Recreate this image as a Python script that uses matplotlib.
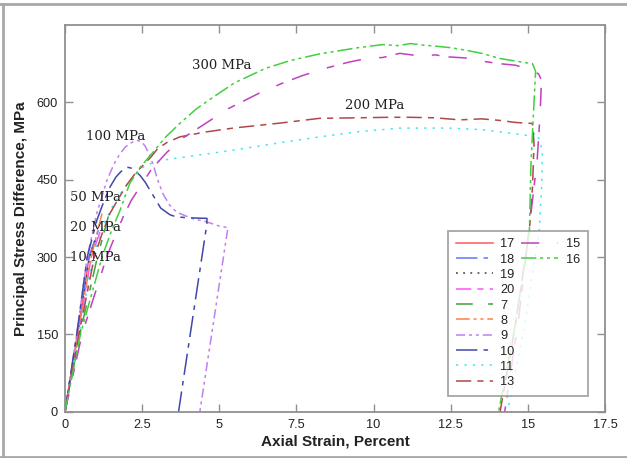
import matplotlib
matplotlib.use("Agg")
import matplotlib.pyplot as plt
from matplotlib.lines import Line2D

# ---------------- data ----------------
labels = ["17", "18", "19", "20", "7", "8", "9", "10", "11", "13", "15", "16"]

s17_x = [0, 0.40, 0.78, 0.95]
s17_y = [0, 150, 300, 330]
s18_x = [0, 0.40, 0.78, 1.10]
s18_y = [0, 150, 300, 355]
s19_x = [0, 0.42, 0.80, 1.00]
s19_y = [0, 150, 300, 335]
s20_x = [0, 0.42, 0.85, 1.20]
s20_y = [0, 150, 300, 360]
s7_x = [0, 0.48, 1.05, 1.50]
s7_y = [0, 150, 300, 400]
s8_x = [0, 0.42, 0.85, 1.20]
s8_y = [0, 150, 300, 385]
s9_x = [0, 0.38, 0.72, 1.03, 1.36, 1.60, 1.78, 1.95, 2.10, 2.25, 2.37, 2.50,
        2.60, 2.72, 2.85, 3.00, 3.17, 3.40, 3.62, 4.10, 4.60, 5.00, 5.28, 4.37]
s9_y = [0, 150, 300, 385, 449, 482, 500, 513, 520, 525, 526, 522,
        515, 500, 481, 450, 423, 400, 387, 375, 368, 360, 357, 0]
s10_x = [0, 0.38, 0.72, 1.03, 1.26, 1.46, 1.65, 1.80, 1.93, 2.04, 2.17, 2.30,
         2.45, 2.60, 2.85, 3.10, 3.40, 3.60, 4.00, 4.60, 4.60, 3.68]
s10_y = [0, 150, 300, 371, 408, 436, 455, 465, 471, 474, 472, 466,
         457, 445, 420, 395, 382, 378, 376, 375, 365, 0]
s11_x = [0, 0.45, 0.90, 1.30, 1.60, 1.88, 2.20, 2.53, 2.80, 3.07, 4.00, 5.44,
         7.00, 8.25, 9.50, 10.85, 12.46, 13.50, 14.08, 14.95, 15.30, 15.47,
         15.45, 15.37, 14.90, 14.34]
s11_y = [0, 150, 300, 370, 405, 430, 455, 474, 482, 487, 495, 507,
         522, 533, 543, 550, 550, 547, 543, 536, 540, 507,
         440, 352, 170, 0]
s13_x = [0, 0.45, 0.95, 1.20, 1.46, 1.75, 2.00, 2.25, 2.53, 2.80, 3.00, 3.30,
         3.72, 4.50, 5.44, 7.00, 8.25, 9.50, 10.50, 11.17, 12.00, 12.80,
         13.50, 14.08, 14.60, 15.15, 15.20, 15.15, 15.05, 14.60, 14.10]
s13_y = [0, 150, 300, 345, 385, 415, 440, 460, 478, 495, 510, 522,
         533, 542, 550, 560, 569, 570, 571, 571, 570, 566,
         568, 565, 561, 559, 520, 435, 352, 170, 0]
s15_x = [0, 0.55, 1.35, 1.65, 1.90, 2.15, 2.43, 2.80, 3.30, 3.80, 4.37, 5.30,
         6.30, 7.00, 7.70, 8.50, 9.20, 9.77, 10.30, 10.85, 11.50, 12.00,
         12.46, 13.00, 13.50, 14.08, 14.60, 15.15, 15.35, 15.44, 15.40, 15.30,
         15.10, 14.70, 14.25]
s15_y = [0, 150, 300, 345, 380, 410, 436, 470, 503, 530, 552, 588,
         618, 636, 652, 667, 678, 685, 687, 695, 690, 692,
         688, 686, 680, 675, 672, 662, 655, 643, 580, 487,
         385, 180, 0]
s16_x = [0, 0.50, 1.20, 1.50, 1.78, 2.10, 2.45, 2.82, 3.25, 3.72, 4.25, 4.80,
         5.50, 6.50, 7.30, 8.25, 9.50, 10.30, 10.80, 11.20, 11.60, 12.00,
         12.50, 13.00, 13.50, 14.10, 14.60, 15.15, 15.25, 15.20, 15.10, 15.05,
         14.60, 14.05]
s16_y = [0, 150, 300, 350, 390, 443, 475, 501, 532, 559, 587, 610,
         638, 666, 681, 694, 706, 712, 710, 714, 711, 709,
         706, 701, 695, 685, 680, 675, 660, 600, 480, 352,
         170, 0]

xs = [s17_x, s18_x, s19_x, s20_x, s7_x, s8_x, s9_x, s10_x, s11_x, s13_x, s15_x, s16_x]
ys = [s17_y, s18_y, s19_y, s20_y, s7_y, s8_y, s9_y, s10_y, s11_y, s13_y, s15_y, s16_y]

colors = ["#ff5a5a", "#5a78ff", "#404040", "#ff50ff", "#40a040", "#ff7f50",
          "#c080f0", "#4048a8", "#40e8f0", "#b04848", "#c040c0", "#40d040"]
dashes = [None, (14, 4, 3, 4), (1.2, 3.5), (10, 4, 4, 4), (11, 10, 4, 5),
          (9, 2.5, 2, 2.5, 2, 2.5), (6, 2.5, 2, 2.5, 2, 2.5), (14, 4, 3, 4),
          (1.5, 4), (10, 4, 4, 4), (12, 12, 5, 6), (10, 2.5, 2, 2.5, 2, 2.5)]

annot_text = ["300 MPa", "200 MPa", "100 MPa", "50 MPa", "20 MPa", "10 MPa"]
annot_x = [4.11, 9.06, 0.68, 0.16, 0.16, 0.16]
annot_y = [672, 594, 534, 416, 358, 300]

xticks = [0, 2.5, 5, 7.5, 10, 12.5, 15, 17.5]
xticklabels = ["0", "2.5", "5", "7.5", "10", "12.5", "15", "17.5"]
yticks = [0, 150, 300, 450, 600]

# ---------------- figure ----------------
plt.rcParams['font.family'] = ['Liberation Sans', 'DejaVu Sans']
fig = plt.figure(figsize=(6.27, 4.58), dpi=100)
ax = fig.add_axes([65/627, 1-411.7/458, 540/627, 386.7/458])

handles = []
for x, y, c, d, lab in zip(xs, ys, colors, dashes, labels):
    ln, = ax.plot(x, y, color=c, lw=1.1, label=lab)
    if d is not None:
        ln.set_dashes(d)
    handles.append(ln)

for t, x, y in zip(annot_text, annot_x, annot_y):
    ax.text(x, y, t, ha='left', va='center', fontsize=9.5,
            family='DejaVu Serif', color='#222222')

ax.set_xlim(0, 17.5)
ax.set_ylim(0, 750)
ax.set_xticks(xticks)
ax.set_xticklabels(xticklabels)
ax.set_yticks(yticks)
ax.tick_params(direction='in', length=6, width=1, color='#909090',
               labelsize=9.2, labelcolor='#222222', top=True, right=True, pad=5)
for sp in ax.spines.values():
    sp.set_color('#909090')
    sp.set_linewidth(1.3)

ax.set_xlabel("Axial Strain, Percent", fontsize=11, fontweight='bold',
              color='#222222', labelpad=3)
ax.set_ylabel("Principal Stress Difference, MPa", fontsize=11, fontweight='bold',
              color='#222222', labelpad=6)

# legend: 10 entries in first column, 2 in second
blank = Line2D([], [], alpha=0)
leg_handles = handles[:10] + handles[10:] + [blank] * 8
leg_labels = labels[:10] + labels[10:] + [""] * 8
leg = ax.legend(leg_handles, leg_labels, ncol=2, loc='lower left',
                bbox_to_anchor=(0.709, 0.041, 0.261, 0.434),
                fontsize=9.2, frameon=True, fancybox=False, borderpad=0.6,
                labelspacing=0.26, handlelength=2.9, handletextpad=0.6,
                columnspacing=0.5, borderaxespad=0)
leg.get_frame().set_edgecolor('#909090')
leg.get_frame().set_linewidth(1.3)
for t in leg.get_texts():
    t.set_color('#222222')

# outer frame lines of the picture
fig.add_artist(Line2D([0, 1], [1-4/458, 1-4/458], transform=fig.transFigure,
                      color='#a8a8a8', lw=2))
fig.add_artist(Line2D([0, 1], [1-457/458, 1-457/458], transform=fig.transFigure,
                      color='#a8a8a8', lw=2))
fig.add_artist(Line2D([3/627, 3/627], [1-4/458, 1-457/458], transform=fig.transFigure,
                      color='#a8a8a8', lw=2))

fig.savefig("out.png", dpi=100)
